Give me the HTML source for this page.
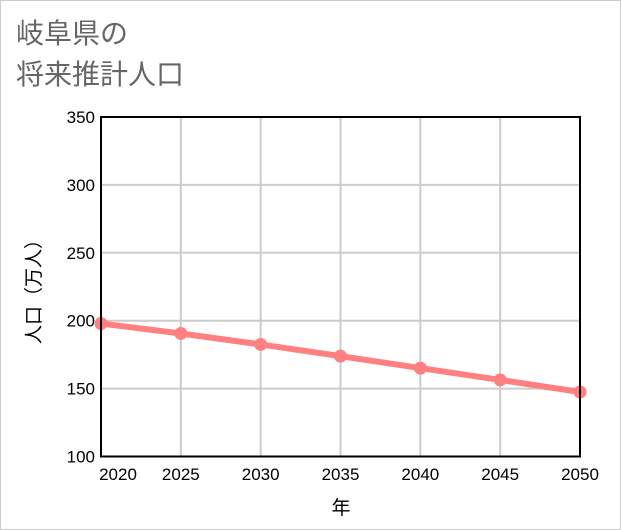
<!DOCTYPE html>
<html><head><meta charset="utf-8"><style>
body{margin:0;background:#fff;}
svg{display:block;font-family:"Liberation Sans","Noto Sans CJK JP",sans-serif;}
</style></head><body>
<svg id="c" width="621" height="530">
<rect x="0.5" y="0.5" width="620" height="529" fill="#fff" stroke="#ccc"/>
<text x="16" y="43" font-size="28" fill="#666">岐阜県の</text>
<text x="16" y="84" font-size="28" fill="#666">将来推計人口</text>
<g id="grid"></g>
<g id="series"></g>
<rect x="101" y="117" width="479" height="339.5" fill="none" stroke="#000" stroke-width="2"/>
<g id="ticks"></g>
<text x="341" y="514" font-size="19" text-anchor="middle" fill="#000">年</text>
<text transform="translate(40,287) rotate(-90)" font-size="19" text-anchor="middle" fill="#000">人口（万人）</text>
</svg>
<script>
const years=[2020,2025,2030,2035,2040,2045,2050];
const population=[197.9,190.6,182.5,173.9,165.1,156.4,147.5];
const yTicks=[100,150,200,250,300,350];
const X0=101,X1=580,Y0=456.5,Y1=117;
const xs=v=>X0+(v-2020)/(2050-2020)*(X1-X0);
const ys=v=>Y0-(v-100)/(350-100)*(Y0-Y1);
const NS='http://www.w3.org/2000/svg';
const grid=document.getElementById('grid'),ticks=document.getElementById('ticks'),ser=document.getElementById('series');
function mk(tag,attrs,parent){const e=document.createElementNS(NS,tag);for(const k in attrs)e.setAttribute(k,attrs[k]);parent.appendChild(e);return e;}
yTicks.forEach(v=>{
  const l=mk('line',{x1:X0,x2:X1,y1:ys(v),y2:ys(v),stroke:'#ccc','stroke-width':2},grid);
  
  
  const t=mk('text',{x:95,y:ys(v)+6,'font-size':17,'text-anchor':'end',fill:'#000'},ticks);
  t.textContent=v;
  
  
});
years.forEach((v,i)=>{
  const l=mk('line',{x1:xs(v),x2:xs(v),y1:Y1,y2:Y0,stroke:'#ccc','stroke-width':2},grid);
  
  
  let tx=xs(v);if(i===0)tx=X0+17;
  const t=mk('text',{x:tx,y:480,'font-size':17,'text-anchor':'middle',fill:'#000'},ticks);
  t.textContent=v;
  
  
});
const pts=years.map((y,i)=>xs(y)+','+ys(population[i])).join(' ');
const pl=mk('polyline',{points:pts,fill:'none',stroke:'#ff8080','stroke-width':6},ser);


years.forEach((y,i)=>{
  const c=mk('circle',{cx:xs(y),cy:ys(population[i]),r:6.5,fill:'#ff8080'},ser);
  
  
});
</script>
</body></html>
